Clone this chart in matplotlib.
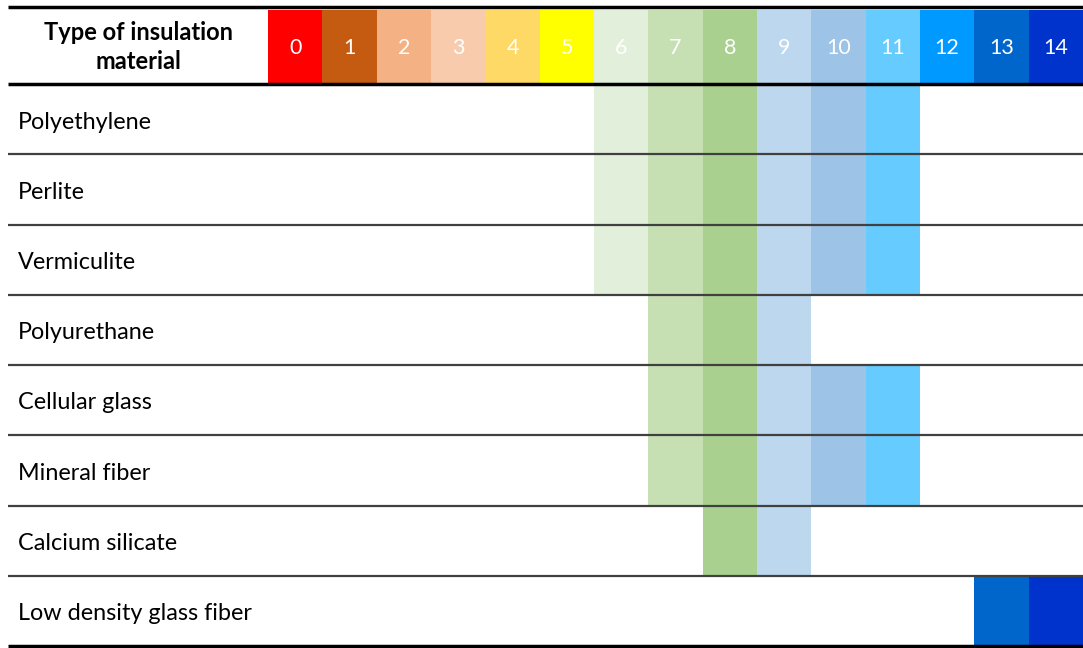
import matplotlib.pyplot as plt

materials = ["Polyethylene", "Perlite", "Vermiculite", "Polyurethane",
             "Cellular glass", "Mineral fiber", "Calcium silicate",
             "Low density glass fiber"]
range_start = [6, 6, 6, 7, 7, 7, 8, 13]
range_end = [11, 11, 11, 9, 11, 11, 9, 14]
levels = list(range(15))
level_colors = ["#FF0000", "#C55A11", "#F4B183", "#F8CBAD", "#FFD966", "#FFFF00",
                "#E2EFDA", "#C6E0B4", "#A9D08E", "#BDD7EE", "#9DC3E6", "#66CCFF",
                "#0099FF", "#0066CC", "#0033CC"]

plt.rcParams['font.family'] = ['Lato', 'DejaVu Sans']

fig = plt.figure(figsize=(10.83, 6.48), dpi=100)
ax = fig.add_axes([0, 0, 1, 1])
ax.set_xlim(-4.933, 15)
ax.set_ylim(8.028, -1.197)
ax.axis('off')

head_top, head_bot = -1.055, -0.015
# header cells
for lv, col in zip(levels, level_colors):
    ax.bar(lv + 0.5, head_bot - head_top, bottom=head_top, width=1, color=col)
    ax.text(lv + 0.5, (head_top + head_bot) / 2 + 0.02, str(lv), color="white",
            ha="center", va="center", fontsize=15.5)
ax.text(-2.38, -0.53, "Type of insulation\nmaterial", ha="center", va="center",
        fontsize=17, fontweight="bold", linespacing=1.3)

# body cells
for i, (name, s, e) in enumerate(zip(materials, range_start, range_end)):
    for lv in range(s, e + 1):
        ax.bar(lv + 0.5, 1, bottom=i, width=1, color=level_colors[lv])
    ax.text(-4.6, i + 0.54, name, ha="left", va="center", fontsize=16.8)

x0 = -4.785
ax.hlines([-1.097, 0, len(materials)], x0, 15, color="black", lw=2.5)
ax.hlines(range(1, len(materials)), x0, 15, color="#404040", lw=1.6)

fig.savefig("out.png", dpi=100)
